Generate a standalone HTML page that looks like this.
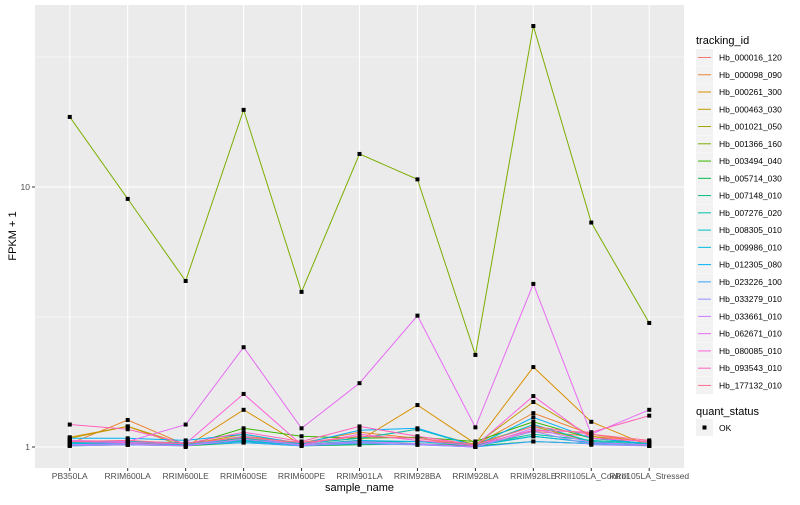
<!DOCTYPE html>
<html><head><meta charset="utf-8"><style>
body{margin:0;background:#fff;font-family:"Liberation Sans",sans-serif}
svg text{font-family:"Liberation Sans",sans-serif}
</style></head><body>
<svg id="chart" width="800" height="500"></svg>
<script>
const categories=["PB350LA","RRIM600LA","RRIM600LE","RRIM600SE","RRIM600PE","RRIM901LA","RRIM928BA","RRIM928LA","RRIM928LE","RRII105LA_Control","RRII105LA_Stressed"];
const seriesNames=["Hb_000016_120","Hb_000098_090","Hb_000261_300","Hb_000463_030","Hb_001021_050","Hb_001366_160","Hb_003494_040","Hb_005714_030","Hb_007148_010","Hb_007276_020","Hb_008305_010","Hb_009986_010","Hb_012305_080","Hb_023226_100","Hb_033279_010","Hb_033661_010","Hb_062671_010","Hb_080085_010","Hb_093543_010","Hb_177132_010"];
const colors=["#F8766D","#EA8331","#D89000","#C09B00","#A3A500","#7CAE00","#39B600","#00BB4E","#00BF7D","#00C1A3","#00BFC4","#00BAE0","#00B0F6","#35A2FF","#9590FF","#C77CFF","#E76BF3","#FA62DB","#FF62BC","#FF6C91"];
const s0=[1.04,1.06,1.02,1.08,1.03,1.10,1.08,1.0,1.15,1.10,1.05];
const s1=[1.03,1.27,1.02,1.10,1.04,1.14,1.08,1.02,1.35,1.12,1.04];
const s2=[1.09,1.20,1.00,1.39,1.02,1.06,1.45,1.03,2.03,1.25,1.01];
const s3=[1.08,1.20,1.02,1.12,1.03,1.08,1.17,1.02,1.49,1.10,1.02];
const s4=[1.02,1.03,1.01,1.06,1.02,1.05,1.05,1.03,1.20,1.05,1.01];
const s5=[18.6,9.0,4.35,19.8,3.95,13.4,10.7,2.26,41.6,7.3,3.0];
const s6=[1.02,1.03,1.01,1.18,1.10,1.08,1.09,1.05,1.25,1.08,1.03];
const s7=[1.01,1.02,1.01,1.04,1.01,1.02,1.03,1.01,1.05,1.03,1.02];
const s8=[1.02,1.03,1.02,1.06,1.02,1.04,1.05,1.02,1.10,1.04,1.02];
const s9=[1.03,1.04,1.03,1.08,1.02,1.05,1.05,1.02,1.12,1.06,1.03];
const s10=[1.04,1.05,1.04,1.06,1.03,1.08,1.17,1.01,1.22,1.05,1.02];
const s11=[1.03,1.04,1.03,1.05,1.02,1.06,1.05,1.01,1.10,1.04,1.02];
const s12=[1.08,1.08,1.06,1.12,1.03,1.16,1.18,1.01,1.30,1.08,1.03];
const s13=[1.02,1.02,1.02,1.04,1.01,1.03,1.02,1.00,1.05,1.03,1.02];
const s14=[1.01,1.02,1.01,1.10,1.01,1.04,1.02,1.00,1.15,1.02,1.01];
const s15=[1.02,1.03,1.01,1.07,1.02,1.05,1.03,1.00,1.18,1.04,1.02];
const s16=[1.06,1.05,1.22,2.42,1.18,1.76,3.2,1.19,4.24,1.12,1.39];
const s17=[1.05,1.04,1.03,1.60,1.02,1.12,1.06,1.01,1.57,1.08,1.05];
const s18=[1.22,1.17,1.03,1.14,1.05,1.20,1.10,1.02,1.16,1.14,1.32];
const s19=[1.05,1.06,1.03,1.09,1.04,1.10,1.08,1.02,1.20,1.12,1.06];
const seriesValues=[s0,s1,s2,s3,s4,s5,s6,s7,s8,s9,s10,s11,s12,s13,s14,s15,s16,s17,s18,s19];
const yTicks=[1,10];
const yTickLabels=["1","10"];

const NS="http://www.w3.org/2000/svg";
const svg=document.getElementById("chart");
function mk(tag,attrs,parent){const e=document.createElementNS(NS,tag);for(const k in attrs)e.setAttribute(k,attrs[k]);(parent||svg).appendChild(e);return e;}
const L=35,R=684,T=5,B=468;
const step=(R-L)/(categories.length-1+1.2);
function xScale(i){return L+step*0.6+i*step;}
function yScale(v){return 447-260*Math.log10(v);}

const panel=mk("rect",{x:L,y:T,width:R-L,height:B-T,fill:"#EBEBEB"});


[Math.sqrt(10),Math.sqrt(1000)].forEach(v=>{const g=mk("line",{x1:L,x2:R,y1:yScale(v),y2:yScale(v),stroke:"#fff","stroke-width":0.5});

});
yTicks.forEach((v,i)=>{const y=yScale(v);
const g=mk("line",{x1:L,x2:R,y1:y,y2:y,stroke:"#fff","stroke-width":1.1});


const tk=mk("line",{x1:L-3,x2:L,y1:y,y2:y,stroke:"#333","stroke-width":1});


const t=mk("text",{x:L-5,y:y+3,"text-anchor":"end","font-size":8.5,fill:"#4d4d4d"});t.textContent=yTickLabels[i];

});
categories.forEach((c,i)=>{const x=xScale(i);
const g=mk("line",{x1:x,x2:x,y1:T,y2:B,stroke:"#fff","stroke-width":1.1});


const tk=mk("line",{x1:x,x2:x,y1:B,y2:B+3,stroke:"#333","stroke-width":1});


const t=mk("text",{x:x,y:B+11,"text-anchor":"middle","font-size":8.5,fill:"#4d4d4d"});t.textContent=c;

});
seriesValues.forEach((vals,si)=>{
const p=mk("polyline",{points:vals.map((v,i)=>xScale(i)+","+yScale(v)).join(" "),fill:"none",stroke:colors[si],"stroke-width":1});

});
seriesValues.forEach((vals)=>{vals.forEach((v,i)=>{
const r=mk("rect",{x:xScale(i)-2,y:yScale(v)-2,width:4,height:4,fill:"#000"});

});});
const xt=mk("text",{x:(L+R)/2,y:491,"text-anchor":"middle","font-size":11,fill:"#000"});xt.textContent="sample_name";


const yt=mk("text",{x:0,y:0,"text-anchor":"middle","font-size":11,fill:"#000",transform:"translate(16,236) rotate(-90)"});yt.textContent="FPKM + 1";


const lt=mk("text",{x:696,y:44,"font-size":11,fill:"#000"});lt.textContent="tracking_id";


seriesNames.forEach((n,i)=>{const y=49+i*17.26;
const bg=mk("rect",{x:696,y:y,width:17,height:17,fill:"#F2F2F2"});


const ln=mk("line",{x1:698,x2:711,y1:y+8.5,y2:y+8.5,stroke:colors[i],"stroke-width":1});


const t=mk("text",{x:719,y:y+11.5,"font-size":8.5,fill:"#000"});t.textContent=n;

});
const qt=mk("text",{x:696,y:415,"font-size":11,fill:"#000"});qt.textContent="quant_status";


const qb=mk("rect",{x:696,y:419,width:17,height:17,fill:"#F2F2F2"});


const qp=mk("rect",{x:702.5,y:425.5,width:4,height:4,fill:"#000"});


const qo=mk("text",{x:719,y:431,"font-size":8.5,fill:"#000"});qo.textContent="OK";


</script>
</body></html>
